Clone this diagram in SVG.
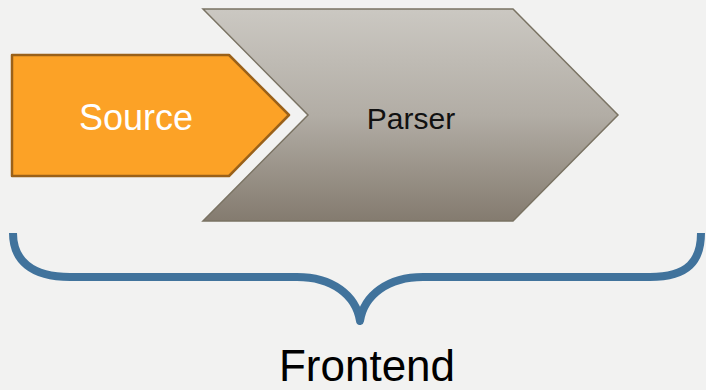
<svg xmlns="http://www.w3.org/2000/svg" width="706" height="390" viewBox="0 0 706 390">
<defs>
<linearGradient id="gray" x1="0" y1="0" x2="0" y2="1">
<stop offset="0" stop-color="#cbc8c2"/>
<stop offset="0.5" stop-color="#b2ada5"/>
<stop offset="1" stop-color="#847b6f"/>
</linearGradient>
<style>
.lbl{font-family:"Liberation Sans",Arial,sans-serif;text-anchor:middle}
</style>
</defs>
<rect width="706" height="390" fill="#f2f2f1"/>
<g id="parser">
<polygon points="203,9 513,9 618,115 513,221 203,221 308,115" fill="url(#gray)" stroke="#7a7363" stroke-width="1.5"/>
<text class="lbl" x="411" y="129" font-size="30" fill="#111">Parser</text>
</g>
<g id="source">
<polygon points="12,55 229,55 289,115 229,176 12,176" fill="#fca226" stroke="#9a6119" stroke-width="2.5" stroke-linejoin="round"/>
<text class="lbl" x="136" y="130" font-size="36" fill="#ffffff">Source</text>
</g>
<g id="connectors">
<path d="M13,233 C13,260 31,277 70,277 L297,277 C332,277 356,295 360,321 C364,295 388,277 423,277 L650,277 C689,277 701,260 701,233" fill="none" stroke="#41739c" stroke-width="8" stroke-linecap="butt" stroke-linejoin="round"/>
</g>
<g id="frontend">
<text class="lbl" x="367" y="381" font-size="44" fill="#000">Frontend</text>
</g>
</svg>
